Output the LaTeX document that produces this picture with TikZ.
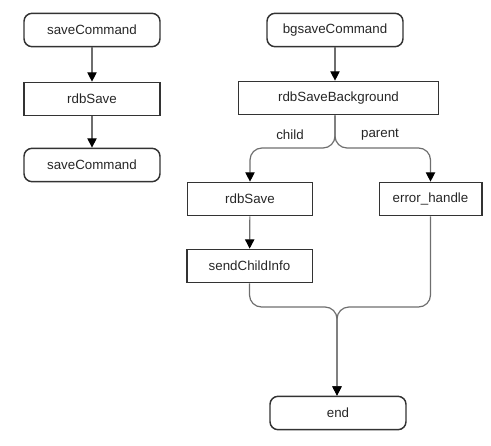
\documentclass[tikz,border=0pt]{standalone}
\usepackage{fontspec}
\setmainfont{Liberation Sans}
\usetikzlibrary{arrows.meta,positioning}
\definecolor{boxline}{RGB}{51,51,51}
\definecolor{flowline}{RGB}{110,110,110}

\begin{document}
\begin{tikzpicture}[x=0.75pt, y=-0.75pt,
  every node/.style={font=\fontsize{10}{12}\selectfont, text=black!85},
  term/.style={draw=boxline, line width=1.1pt, rounded corners=6pt, minimum width=102pt, minimum height=25pt},
  proc/.style={draw=boxline, line width=1pt, minimum height=25pt},
  flow/.style={draw=flowline, line width=0.9pt, -{Triangle[length=7pt, width=7pt, fill=black, black]}},
  lbl/.style={font=\fontsize{10}{12}\selectfont}]
  \useasboundingbox (0,0) rectangle (491,445);
  \node[term] (save1) at (92,30) {saveCommand};
  \node[proc, minimum width=102pt] (rdb1) at (92,99) {rdbSave};
  \node[term] (save2) at (92,165) {saveCommand};
  \draw[flow] (save1) -- (rdb1);
  \draw[flow] (rdb1) -- (save2);

  \node[term] (bgsave) at (335,30) {bgsaveCommand};
  \node[proc, minimum width=150pt] (rdbbg) at (338.5,98) {rdbSaveBackground};
  \node[proc, minimum width=94pt] (rdb2) at (250,199) {rdbSave};
  \node[proc, minimum width=77pt] (errh) at (430.5,199) {error\_handle};
  \node[proc, minimum width=94pt] (sendci) at (249.5,266) {sendChildInfo};
  \node[term] (end) at (338,413) {end};
  \coordinate (split) at (335,148);
  \coordinate (merge) at (337,307);
  \draw[flow] (bgsave.south -| split) -- (rdbbg.north -| split);
  \draw[flow, rounded corners=9pt] (rdbbg.south -| split) -- (split) -| (rdb2.north);
  \draw[flow, rounded corners=9pt] (rdbbg.south -| split) -- (split) -| (errh.north);
  \node[lbl] (child) at (290,135) {child};
  \node[lbl] (parent) at (380,135) {parent};
  \draw[flow] (rdb2) -- (sendci);
  \draw[flow, rounded corners=9pt] (sendci.south) |- (merge) -- (end.north -| merge);
  \draw[flow, rounded corners=9pt] (errh.south) |- (merge) -- (end.north -| merge);
\end{tikzpicture}
\end{document}
